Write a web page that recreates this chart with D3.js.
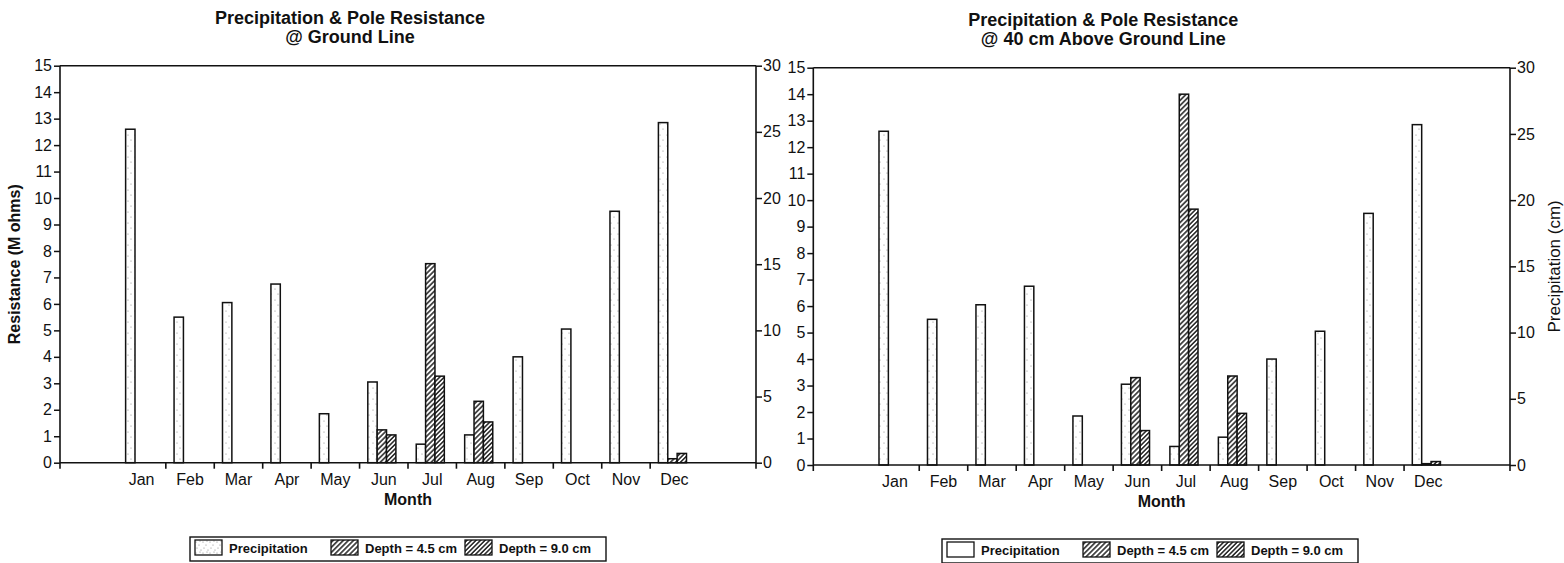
<!DOCTYPE html>
<html>
<head>
<meta charset="utf-8">
<script src="https://cdn.jsdelivr.net/npm/d3@7"></script>
<style>
  body { margin: 0; background: #fff; }
  svg { display: block; font-family: "Liberation Sans", Arial, sans-serif; }
</style>
</head>
<body>
<svg id="chart" width="1564" height="563"></svg>
<script>
// data
const months = ["Jan", "Feb", "Mar", "Apr", "May", "Jun", "Jul", "Aug", "Sep", "Oct", "Nov", "Dec"];
const seriesNames = ["Precipitation", "Depth = 4.5 cm", "Depth = 9.0 cm"];
const precipitation = [25.2, 11.0, 12.1, 13.5, 3.7, 6.1, 1.4, 2.1, 8.0, 10.1, 19.0, 25.7]; // cm
const groundDepth45 = [0, 0, 0, 0, 0, 1.24, 7.52, 2.32, 0, 0, 0, 0.15]; // M ohms
const groundDepth90 = [0, 0, 0, 0, 0, 1.05, 3.27, 1.54, 0, 0, 0, 0.35];
const aboveDepth45 = [0, 0, 0, 0, 0, 3.3, 14.0, 3.36, 0, 0, 0, 0.05];
const aboveDepth90 = [0, 0, 0, 0, 0, 1.3, 9.66, 1.95, 0, 0, 0, 0.13];
const resistanceTicks = d3.range(0, 16);
const precipTicks = [0, 5, 10, 15, 20, 25, 30];

const svg = d3.select("#chart");
const defs = svg.append("defs");
const ink = "#111";

// fills: stipple for precipitation, diagonal hatch for depths
function stipple(id, dots) {
  const p = defs.append("pattern").attr("id", id)
    .attr("patternUnits", "userSpaceOnUse").attr("width", 7).attr("height", 11);
  p.append("rect").attr("width", 7).attr("height", 11).attr("fill", "#fff");
  dots.forEach(d => p.append("circle").attr("cx", d[0]).attr("cy", d[1]).attr("r", 0.6).attr("fill", "#888"));
}
stipple("stipple", [[2, 3], [5, 8]]);
stipple("stippleDense", [[1, 2], [4, 5], [2, 8], [6, 10], [5, 1]]);

function hatch(id, gap) {
  const p = defs.append("pattern").attr("id", id)
    .attr("patternUnits", "userSpaceOnUse").attr("width", gap).attr("height", gap)
    .attr("patternTransform", "rotate(45)");
  p.append("rect").attr("width", gap).attr("height", gap).attr("fill", "#fff");
  p.append("line").attr("x1", gap / 2).attr("x2", gap / 2).attr("y1", 0).attr("y2", gap)
    .attr("stroke", ink).attr("stroke-width", 1.4);
}
hatch("hatch45", 3.6);
hatch("hatch90", 3.2);

function drawChart(cfg) {
  const g = svg.append("g");

  const x = d3.scaleBand().domain(months).range([cfg.left, cfg.right])
    .paddingInner(0).paddingOuter(1.185);
  const sub = d3.scaleBand().domain(seriesNames)
    .range([x.bandwidth() * 0.17, x.bandwidth() * 0.75]);
  const yRes = d3.scaleLinear().domain([0, 15]).range([cfg.bottom, cfg.top]);
  const yPre = d3.scaleLinear().domain([0, 30]).range([cfg.bottom, cfg.top]);

  const fills = ["url(#stipple)", "url(#hatch45)", "url(#hatch90)"];
  const rows = months.flatMap((m, i) => [
    { m, s: 0, y: yPre(precipitation[i]) },
    { m, s: 1, y: yRes(cfg.depth45[i]) },
    { m, s: 2, y: yRes(cfg.depth90[i]) }
  ]);

  g.append("g").selectAll("rect").data(rows).enter().append("rect")
    .attr("x", d => x(d.m) + sub(seriesNames[d.s]))
    .attr("width", sub.bandwidth())
    .attr("y", d => d.y)
    .attr("height", d => cfg.bottom - d.y)
    .attr("fill", d => fills[d.s])
    .attr("stroke", ink)
    .attr("stroke-width", 1.5);

  // frame
  const frame = g.append("g").attr("stroke", ink).attr("stroke-width", 1.6);
  frame.append("line").attr("x1", cfg.left).attr("x2", cfg.left).attr("y1", cfg.top).attr("y2", cfg.bottom + 6);
  frame.append("line").attr("x1", cfg.right).attr("x2", cfg.right).attr("y1", cfg.top).attr("y2", cfg.bottom + 6);
  frame.append("line").attr("x1", cfg.left).attr("x2", cfg.right).attr("y1", cfg.top).attr("y2", cfg.top);
  frame.append("line").attr("x1", cfg.left).attr("x2", cfg.right).attr("y1", cfg.bottom).attr("y2", cfg.bottom);
  // month boundary ticks
  frame.selectAll(".mt").data(months.slice(1)).enter().append("line")
    .attr("x1", d => x(d)).attr("x2", d => x(d))
    .attr("y1", cfg.bottom).attr("y2", cfg.bottom + 6);

  const styleAxis = a => {
    a.select(".domain").remove();
    a.selectAll("line").attr("stroke", ink).attr("stroke-width", 1.5);
    a.selectAll("text").attr("fill", ink).style("font-size", "16px");
  };

  g.append("g").attr("transform", `translate(${cfg.left},0)`)
    .call(d3.axisLeft(yRes).tickValues(resistanceTicks).tickSize(6).tickSizeOuter(0).tickPadding(2))
    .call(styleAxis);

  g.append("g").attr("transform", `translate(${cfg.right},0)`)
    .call(d3.axisRight(yPre).tickValues(precipTicks).tickSize(6).tickSizeOuter(0).tickPadding(1))
    .call(styleAxis);

  g.append("g").attr("transform", `translate(0,${cfg.bottom})`)
    .call(d3.axisBottom(x).tickSize(0).tickSizeOuter(0))
    .call(styleAxis)
    .call(a => a.selectAll("text").attr("y", 22).attr("dy", 0));

  // titles
  const cx = cfg.left + 290;
  g.append("text").attr("x", cx).attr("y", cfg.top - 42.2)
    .attr("text-anchor", "middle").attr("font-weight", "bold").attr("font-size", 18)
    .attr("fill", ink).text(cfg.title[0]);
  g.append("text").attr("x", cx).attr("y", cfg.top - 22.7)
    .attr("text-anchor", "middle").attr("font-weight", "bold").attr("font-size", 18)
    .attr("fill", ink).text(cfg.title[1]);

  g.append("text").attr("x", (cfg.left + cfg.right) / 2).attr("y", cfg.bottom + 42)
    .attr("text-anchor", "middle").attr("font-weight", "bold").attr("font-size", 16)
    .attr("fill", ink).text("Month");

  if (cfg.leftTitle) {
    g.append("text").attr("transform", `translate(20,${(cfg.top + cfg.bottom) / 2}) rotate(-90)`)
      .attr("text-anchor", "middle").attr("font-weight", "bold").attr("font-size", 16)
      .attr("fill", ink).text(cfg.leftTitle);
  }
  if (cfg.rightTitle) {
    g.append("text").attr("transform", `translate(1560,${(cfg.top + cfg.bottom) / 2}) rotate(-90)`)
      .attr("text-anchor", "middle").attr("font-size", 17)
      .attr("fill", ink).text(cfg.rightTitle);
  }

  // legend
  const lg = g.append("g").attr("transform", `translate(${cfg.legend[0]},${cfg.legend[1]})`);
  lg.append("rect").attr("width", 416).attr("height", 24)
    .attr("fill", "#fff").attr("stroke", ink).attr("stroke-width", 1.4);
  const itemX = [5, 141, 275];
  const items = lg.selectAll(".item").data(seriesNames).enter().append("g")
    .attr("transform", (d, i) => `translate(${itemX[i]},3)`);
  items.append("rect").attr("width", 27).attr("height", 15)
    .attr("fill", (d, i) => i === 0 ? cfg.legendStipple : fills[i])
    .attr("stroke", ink).attr("stroke-width", 1.3);
  items.append("text").attr("x", 34).attr("y", 12.5)
    .attr("font-size", 13).attr("font-weight", "bold").attr("fill", ink)
    .text(d => d);
}

drawChart({
  left: 60, right: 756, top: 65.7, bottom: 462.7,
  title: ["Precipitation & Pole Resistance", "@ Ground Line"],
  depth45: groundDepth45, depth90: groundDepth90,
  leftTitle: "Resistance (M ohms)",
  legend: [190, 537], legendStipple: "url(#stippleDense)"
});

drawChart({
  left: 813.3, right: 1510, top: 67.7, bottom: 465,
  title: ["Precipitation & Pole Resistance", "@ 40 cm Above Ground Line"],
  depth45: aboveDepth45, depth90: aboveDepth90,
  rightTitle: "Precipitation (cm)",
  legend: [942, 539], legendStipple: "#fff"
});
</script>
</body>
</html>
